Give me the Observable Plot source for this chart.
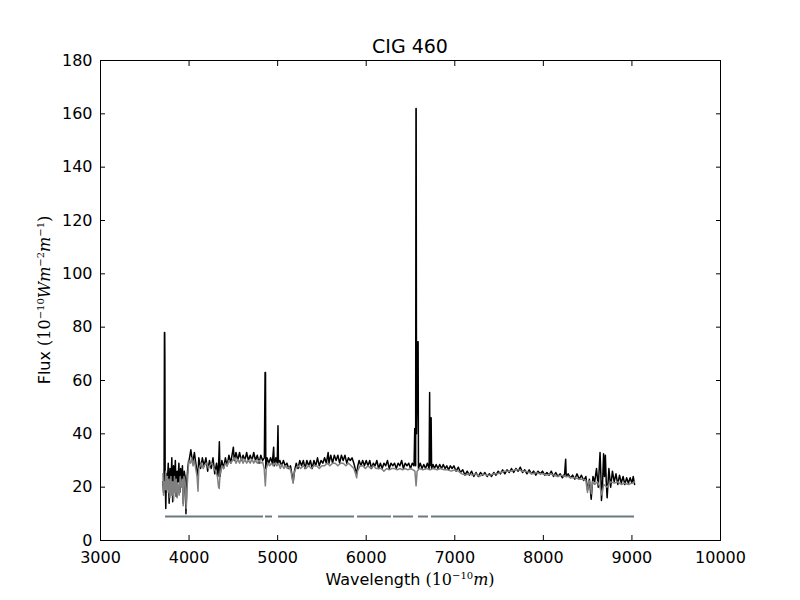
<!DOCTYPE html>
<html>
<head>
<meta charset="utf-8">
<script src="https://cdn.jsdelivr.net/npm/d3@7"></script>
<script src="https://cdn.jsdelivr.net/npm/@observablehq/plot@0.6"></script>
<style>
  html, body { margin: 0; padding: 0; background: #fff; }
  #chart svg { display: block; }
</style>
</head>
<body>
<div id="chart"></div>
<script>
// Observed spectrum (black): [wavelength, flux]
const observed = [
[3705,22],[3712,18],[3718,26],[3722,78],[3725,78],[3727,67],[3730,24],[3737,12],[3745,25],[3755,22],
[3765,29],[3775,14],[3785,27],[3795,20],[3805,31],[3815,14.5],[3825,28],[3835,21],[3845,30],[3855,16.5],
[3865,26],[3875,22],[3885,29],[3895,18],[3905,27],[3915,21],[3925,28],[3935,14],[3945,26],[3955,24],
[3965,10],[3975,22],[3985,27],[3995,30],
[4000,30],[4020,34],[4040,29],[4060,33],[4080,28],[4100,24],[4110,31],[4130,27],[4150,31],[4170,28],
[4190,31],[4210,26],[4230,30],[4250,27],[4270,31],[4290,25],[4310,29],[4325,24],[4335,30],[4342,37],
[4350,24],[4370,30],[4390,27],[4410,31],[4430,28],[4450,32],[4470,29],[4490,33],[4500,35],[4510,30],
[4530,33],[4550,30],[4570,33],[4590,30],[4610,32],[4630,30],[4650,33],[4670,30],[4690,32],[4710,30],
[4730,33],[4750,30],[4770,32],[4790,29],[4810,32],[4830,30],[4850,31],[4858,63],[4863,63],[4866,27],
[4880,31],[4900,29],[4920,31],[4940,29],[4955,35],[4962,28],[4980,31],[4995,29],[5004,43],[5009,29],
[5025,30],[5045,28],[5065,30],[5085,28],[5105,29],[5125,27],[5145,28],[5160,25],[5175,22],[5190,26],
[5210,29],[5230,27],[5250,30],[5270,28],[5290,30],[5310,27],[5330,30],[5350,28],[5370,30],[5390,27],
[5410,30],[5430,28],[5450,31],[5470,28],[5490,30],[5510,29],[5530,31],[5550,29],[5570,33],[5580,29],
[5600,32],[5620,29],[5640,32],[5660,30],[5680,32],[5700,29],[5720,32],[5740,30],[5760,32],[5780,29],
[5800,31],[5820,30],[5840,31],[5860,29],[5875,27],[5893,25],[5905,28],[5920,30],[5940,28],[5960,30],
[5980,28],[6000,30],[6020,28],[6040,30],[6060,27],[6080,29],[6100,28],[6120,30],[6140,27],[6160,29],
[6180,27],[6200,29],[6220,28],[6240,30],[6260,27],[6280,29],[6300,28],[6320,29],[6340,27],[6360,29],
[6380,28],[6400,30],[6420,27],[6440,29],[6460,28],[6480,29],[6500,27],[6520,29],[6540,28],[6548,42],
[6552,42],[6558,28],[6562,162],[6564,162],[6568,40],[6582,74.5],[6586,74.5],[6590,27],[6610,29],[6630,27],
[6650,28.5],[6670,27],[6690,29],[6710,27],[6716,55.5],[6720,28],[6728,46],[6733,46],[6738,27],[6755,28.5],
[6770,27],[6790,28.5],[6810,27],[6830,28.5],[6850,27],[6870,28.5],[6890,27],[6910,28],[6930,26.5],[6950,28],
[6970,27],[6990,28],
[7015,26],[7040,27.5],[7065,25.5],[7090,26.5],[7115,24.5],[7140,26],[7165,24.5],[7190,26],[7215,24],[7240,25.5],
[7265,24],[7290,25.5],[7315,24.5],[7340,25.5],[7365,24],[7390,25],[7415,24],[7440,25.5],[7465,24.5],[7490,26],
[7515,25],[7540,26.5],[7565,25],[7590,26.5],[7615,25.5],[7640,27],[7665,25.5],[7690,27],[7715,26],[7740,27.5],
[7765,25.5],[7790,26.5],[7815,25],[7840,26.5],[7865,25],[7890,26],[7915,24.5],[7940,26],[7965,25],[7990,26],
[8015,24.5],[8040,25.5],[8065,24.5],[8090,26],[8115,24],[8140,25.5],[8165,24],[8190,25],[8215,23.5],[8240,25],
[8252,30.5],[8258,24],[8280,25],[8305,23.5],[8330,24.5],[8355,23],[8380,25],[8405,23],[8430,24.5],[8455,22.5],
[8480,24],[8500,19],[8520,23],[8540,15.5],[8560,24],[8580,22],[8600,27],[8620,20],[8640,33],[8650,24],
[8656,15],[8668,21],[8680,32.5],[8690,24],[8700,32],[8710,22],[8720,16],[8740,27],[8760,20],[8780,26],
[8800,22],[8820,25],[8840,21],[8860,24.5],[8880,21.5],[8900,24],[8920,21],[8940,23.5],[8960,21.5],[8980,23.5],
[9000,21.5],[9015,24],[9030,21]
];

// Model spectrum (gray): [wavelength, flux]
const modelFit = [
[3705,25],[3712,17],[3720,22],[3728,19],[3736,26],[3745,19],[3755,24],[3765,18],[3775,23],[3785,16],
[3795,24],[3805,17],[3815,22],[3825,15],[3835,24],[3845,18],[3855,23],[3865,16],[3875,21],[3888,17],
[3900,24],[3912,20],[3925,23],[3933,13],[3942,24],[3955,22],[3968,12],[3978,20],[3990,27],[4000,30],
[4015,29],[4030,31],[4045,28],[4060,30],[4075,27],[4090,24],[4101,18.5],[4110,27],[4125,28],[4140,29],
[4160,27],[4180,28.5],[4200,29],[4220,27],[4240,28.5],[4260,29],[4280,27],[4300,26],[4320,24],[4333,20],
[4340,19.5],[4350,25],[4370,28],[4390,27],[4410,29],[4430,28],[4450,30],[4470,29],[4490,30],[4510,31],
[4530,29],[4550,30.5],[4570,29],[4590,31],[4610,29],[4630,30.5],[4650,29],[4670,30],[4690,29],[4710,30.5],
[4730,29],[4750,30],[4770,29],[4790,30],[4810,29],[4830,29.5],[4848,27],[4861,20.5],[4872,27],[4890,29],
[4910,28],[4930,29],[4950,28],[4970,29],[4990,28],[5010,29],[5030,27],[5050,28.5],[5070,27],[5090,28],
[5110,27],[5130,27.5],[5150,26],[5165,23],[5175,21.5],[5185,25],[5205,27],[5230,28],[5260,27],[5290,28],
[5320,27],[5350,28],[5380,27],[5410,28],[5440,28],[5470,27],[5500,28],[5530,28],[5560,29],[5590,28],
[5620,29],[5650,29],[5680,28],[5710,29],[5740,29],[5770,28],[5800,29],[5830,28],[5860,27],[5880,25],
[5892,23.5],[5902,26],[5930,28],[5960,28],[5990,27],[6020,28],[6050,27],[6080,28],[6110,27],[6140,27],
[6170,27],[6200,26],[6230,27],[6260,26.5],[6290,27],[6320,27],[6350,26.5],[6380,27],[6410,26.5],[6440,27],
[6470,26.5],[6500,27],[6530,26.5],[6550,26],[6563,20.5],[6575,26],[6600,27],[6640,26.5],[6680,27],[6720,26.5],
[6760,27],[6800,26.5],[6840,27],[6880,26.5],[6920,26.5],[6960,26],[7000,26.5],[7040,26],[7080,25],[7120,24.5],
[7160,25],[7200,24.5],[7240,25],[7280,24],[7320,25],[7360,24.5],[7400,24.5],[7440,25],[7480,25],[7520,25.5],
[7560,26],[7600,26],[7640,26],[7680,26.5],[7720,26.5],[7760,26],[7800,26],[7840,25.5],[7880,25],[7920,25.5],
[7960,25],[8000,25],[8040,24.5],[8080,25],[8120,24.5],[8160,24],[8200,24.5],[8240,24],[8280,24],[8320,23.5],
[8360,23.5],[8400,23],[8440,23],[8480,22.5],[8498,18],[8515,22.5],[8530,21],[8542,17.5],[8555,22],[8580,21],
[8610,22],[8640,20],[8662,17],[8680,21],[8720,20],[8760,22],[8800,21.5],[8840,22],[8880,21],[8920,21.5],
[8960,21],[9000,21.5],[9030,22]
];

// Mask segments (flat line at flux 9)
const maskStart = [3734,4863,5010,5902,6308,6590,6737];
const maskEnd   = [4840,4942,5868,6285,6534,6703,9029];
const maskLevel = 9;

const xTicks = [3000,4000,5000,6000,7000,8000,9000,10000];
const yTicks = [0,20,40,60,80,100,120,140,160,180];

const titleText = "CIG 460";

const obs = observed.map(([w, f]) => ({w, f}));
const model = modelFit.map(([w, f]) => ({w, f}));
const mask = maskStart.map((s, i) => ({s, e: maskEnd[i], v: maskLevel}));

const font = "DejaVu Sans";

const plot = Plot.plot({
  width: 800,
  height: 600,
  marginLeft: 100,
  marginRight: 80,
  marginTop: 60,
  marginBottom: 60,
  style: {fontFamily: font, fontSize: "16px", color: "black", background: "white"},
  x: {domain: [3000, 10000]},
  y: {domain: [0, 180]},
  marks: [
    Plot.line(obs, {x: "w", y: "f", stroke: "black", strokeWidth: 1.5}),
    Plot.line(model, {x: "w", y: "f", stroke: "#808080", strokeWidth: 1.5}),
    Plot.ruleY(mask, {y: "v", x1: "s", x2: "e", stroke: "#6b7a80", strokeWidth: 2}),
    Plot.axisX({anchor: "bottom", ticks: xTicks, tickSize: 0, tickPadding: 11, tickFormat: d3.format("d"), label: null, fontSize: 16}),
    Plot.axisX({anchor: "bottom", ticks: xTicks, tickSize: -5, tickFormat: () => "", label: null}),
    Plot.axisX({anchor: "top", ticks: xTicks, tickSize: -5, tickFormat: () => "", label: null}),
    Plot.axisY({anchor: "left", ticks: yTicks, tickSize: 0, tickPadding: 8, tickFormat: d3.format("d"), label: null, fontSize: 16}),
    Plot.axisY({anchor: "left", ticks: yTicks, tickSize: -5, tickFormat: () => "", label: null}),
    Plot.axisY({anchor: "right", ticks: yTicks, tickSize: -5, tickFormat: () => "", label: null}),
    Plot.frame({stroke: "black", strokeWidth: 1})
  ]
});

document.getElementById("chart").appendChild(plot);

const svg = d3.select(plot);
// Title
svg.append("text")
  .attr("x", 410).attr("y", 53)
  .attr("text-anchor", "middle")
  .attr("font-family", font).attr("font-size", 19)
  .attr("fill", "black")
  .text(titleText);

// X label: Wavelength (10^{-10} m)
const xl = svg.append("text")
  .attr("x", 410).attr("y", 585)
  .attr("text-anchor", "middle")
  .attr("font-family", font).attr("font-size", 16)
  .attr("fill", "black");
xl.append("tspan").text("Wavelength ");
xl.append("tspan").attr("font-family", "DejaVu Serif").text("(10");
xl.append("tspan").attr("font-family", "DejaVu Serif").attr("font-size", 10).attr("dy", -6).text("−10");
xl.append("tspan").attr("font-family", "DejaVu Serif").attr("font-style", "italic").attr("dy", 6).text("m");
xl.append("tspan").attr("font-family", "DejaVu Serif").text(")");

// Y label: Flux (10^{-10} W m^{-2} m^{-1})
const yl = svg.append("text")
  .attr("transform", "translate(50,300) rotate(-90)")
  .attr("text-anchor", "middle")
  .attr("font-family", font).attr("font-size", 16)
  .attr("fill", "black");
yl.append("tspan").text("Flux ");
yl.append("tspan").attr("font-family", "DejaVu Serif").text("(10");
yl.append("tspan").attr("font-family", "DejaVu Serif").attr("font-size", 10).attr("dy", -6).text("−10");
yl.append("tspan").attr("font-family", "DejaVu Serif").attr("font-style", "italic").attr("dy", 6).text("Wm");
yl.append("tspan").attr("font-family", "DejaVu Serif").attr("font-size", 10).attr("dy", -6).text("−2");
yl.append("tspan").attr("font-family", "DejaVu Serif").attr("font-style", "italic").attr("dy", 6).text("m");
yl.append("tspan").attr("font-family", "DejaVu Serif").attr("font-size", 10).attr("dy", -6).text("−1");
yl.append("tspan").attr("font-family", "DejaVu Serif").attr("dy", 6).text(")");
</script>
</body>
</html>
